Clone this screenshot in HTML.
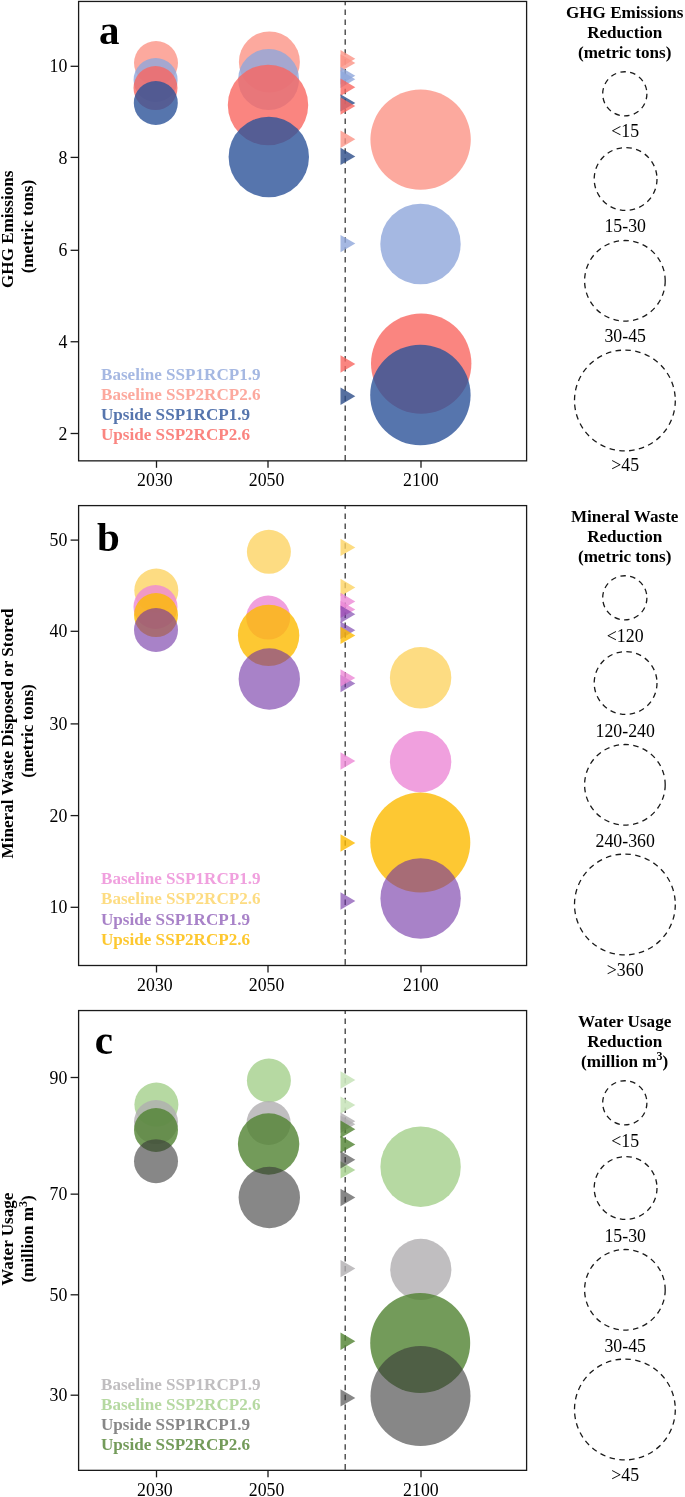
<!DOCTYPE html><html><head><meta charset="utf-8"><style>html,body{margin:0;padding:0;background:#fff;}svg{display:block;will-change:transform;}text{font-family:"Liberation Serif",serif;}</style></head><body>
<svg width="685" height="1497" viewBox="0 0 685 1497">
<rect width="685" height="1497" fill="#fff"/>
<g><circle cx="156.0" cy="63.1" r="22" fill="#fb9486" fill-opacity="0.8"/><circle cx="155.6" cy="80.0" r="22" fill="#8ea6db" fill-opacity="0.8"/><circle cx="155.5" cy="88.1" r="22" fill="#f96760" fill-opacity="0.8"/><circle cx="155.8" cy="103.0" r="22" fill="#2c5398" fill-opacity="0.8"/><circle cx="269.4" cy="62.0" r="30.5" fill="#fb9486" fill-opacity="0.8"/><circle cx="268.6" cy="79.5" r="30.5" fill="#8ea6db" fill-opacity="0.8"/><circle cx="268.0" cy="105.0" r="40.2" fill="#f96760" fill-opacity="0.8"/><circle cx="268.8" cy="157.0" r="40.2" fill="#2c5398" fill-opacity="0.8"/><circle cx="420.6" cy="139.6" r="50.2" fill="#fb9486" fill-opacity="0.8"/><circle cx="420.5" cy="244.0" r="40.2" fill="#8ea6db" fill-opacity="0.8"/><circle cx="421.2" cy="363.6" r="50.2" fill="#f96760" fill-opacity="0.8"/><circle cx="420.4" cy="395.0" r="50.2" fill="#2c5398" fill-opacity="0.8"/><line x1="345.2" y1="460.60" x2="345.2" y2="1.45" stroke="#3a3a3a" stroke-width="1.3" stroke-dasharray="5.5 4.40"/><line x1="345.2" y1="460.80" x2="345.2" y2="460.60" stroke="#3a3a3a" stroke-width="1.3"/><polygon points="340.5,50.10 355.3,58.80 340.5,67.50" fill="#fb9486" fill-opacity="0.8"/><polygon points="340.5,54.20 355.3,62.90 340.5,71.60" fill="#fb9486" fill-opacity="0.8"/><polygon points="340.5,67.10 355.3,75.80 340.5,84.50" fill="#8ea6db" fill-opacity="0.8"/><polygon points="340.5,70.60 355.3,79.30 340.5,88.00" fill="#8ea6db" fill-opacity="0.8"/><polygon points="340.5,78.60 355.3,87.30 340.5,96.00" fill="#f96760" fill-opacity="0.8"/><polygon points="340.5,94.20 355.3,102.90 340.5,111.60" fill="#2c4c88" fill-opacity="0.8"/><polygon points="340.5,97.40 355.3,106.10 340.5,114.80" fill="#f96760" fill-opacity="0.8"/><polygon points="340.5,130.50 355.3,139.20 340.5,147.90" fill="#fb9486" fill-opacity="0.8"/><polygon points="340.5,147.70 355.3,156.40 340.5,165.10" fill="#2c4c88" fill-opacity="0.8"/><polygon points="340.5,234.90 355.3,243.60 340.5,252.30" fill="#8ea6db" fill-opacity="0.8"/><polygon points="340.5,355.30 355.3,364.00 340.5,372.70" fill="#f96760" fill-opacity="0.8"/><polygon points="340.5,387.60 355.3,396.30 340.5,405.00" fill="#2c4c88" fill-opacity="0.8"/><rect x="78.6" y="1.45" width="448.0" height="459.4" fill="none" stroke="#1a1a1a" stroke-width="1.3"/><line x1="156.5" y1="460.8" x2="156.5" y2="467.8" stroke="#1a1a1a" stroke-width="1.3"/><text x="154.9" y="486.10" font-size="17.8" text-anchor="middle" fill="#000">2030</text><line x1="268.0" y1="460.8" x2="268.0" y2="467.8" stroke="#1a1a1a" stroke-width="1.3"/><text x="266.6" y="486.10" font-size="17.8" text-anchor="middle" fill="#000">2050</text><line x1="421.0" y1="460.8" x2="421.0" y2="467.8" stroke="#1a1a1a" stroke-width="1.3"/><text x="420.9" y="486.10" font-size="17.8" text-anchor="middle" fill="#000">2100</text><line x1="78.6" y1="66.3" x2="70.6" y2="66.3" stroke="#1a1a1a" stroke-width="1.3"/><text x="67.3" y="72.4" font-size="17.8" text-anchor="end" fill="#000">10</text><line x1="78.6" y1="157.4" x2="70.6" y2="157.4" stroke="#1a1a1a" stroke-width="1.3"/><text x="67.3" y="163.5" font-size="17.8" text-anchor="end" fill="#000">8</text><line x1="78.6" y1="250.3" x2="70.6" y2="250.3" stroke="#1a1a1a" stroke-width="1.3"/><text x="67.3" y="256.4" font-size="17.8" text-anchor="end" fill="#000">6</text><line x1="78.6" y1="341.75" x2="70.6" y2="341.75" stroke="#1a1a1a" stroke-width="1.3"/><text x="67.3" y="347.9" font-size="17.8" text-anchor="end" fill="#000">4</text><line x1="78.6" y1="433.5" x2="70.6" y2="433.5" stroke="#1a1a1a" stroke-width="1.3"/><text x="67.3" y="439.6" font-size="17.8" text-anchor="end" fill="#000">2</text><text x="98.9" y="44.0" font-size="41" font-weight="bold" fill="#000">a</text><text x="101.0" y="379.70" font-size="17.1" font-weight="bold" fill="#a5b8e2">Baseline SSP1RCP1.9</text><text x="101.0" y="399.95" font-size="17.1" font-weight="bold" fill="#fca99e">Baseline SSP2RCP2.6</text><text x="101.0" y="420.20" font-size="17.1" font-weight="bold" fill="#5675ad">Upside SSP1RCP1.9</text><text x="101.0" y="440.45" font-size="17.1" font-weight="bold" fill="#fa8580">Upside SSP2RCP2.6</text><text transform="translate(13.4,229.3) rotate(-90)" font-size="17.1" font-weight="bold" text-anchor="middle" fill="#000">GHG Emissions</text><text transform="translate(33.2,226.6) rotate(-90)" font-size="17.1" font-weight="bold" text-anchor="middle" fill="#000">(metric tons)</text><text x="624.7" y="17.8" font-size="17.1" font-weight="bold" text-anchor="middle" fill="#000">GHG Emissions</text><text x="624.7" y="37.7" font-size="17.1" font-weight="bold" text-anchor="middle" fill="#000">Reduction</text><text x="624.7" y="57.6" font-size="17.1" font-weight="bold" text-anchor="middle" fill="#000">(metric tons)</text><circle cx="624.8" cy="93.85" r="22.1" fill="none" stroke="#1a1a1a" stroke-width="1.3" stroke-dasharray="5.5 4.40"/><text x="625.2" y="137.20" font-size="17.8" text-anchor="middle" fill="#000">&lt;15</text><circle cx="625.6" cy="179.0" r="31.4" fill="none" stroke="#1a1a1a" stroke-width="1.3" stroke-dasharray="5.5 4.40"/><text x="625.2" y="232.40" font-size="17.8" text-anchor="middle" fill="#000">15-30</text><circle cx="624.9" cy="280.8" r="40.3" fill="none" stroke="#1a1a1a" stroke-width="1.3" stroke-dasharray="5.5 4.40"/><text x="625.2" y="342.40" font-size="17.8" text-anchor="middle" fill="#000">30-45</text><circle cx="624.9" cy="400.5" r="50.4" fill="none" stroke="#1a1a1a" stroke-width="1.3" stroke-dasharray="5.5 4.40"/><text x="625.2" y="471.30" font-size="17.8" text-anchor="middle" fill="#000">&gt;45</text></g>
<g><circle cx="156.3" cy="590.5" r="22" fill="#fcd363" fill-opacity="0.8"/><circle cx="155.5" cy="607.0" r="22" fill="#ec88d6" fill-opacity="0.8"/><circle cx="156.0" cy="615.1" r="22" fill="#fcba00" fill-opacity="0.8"/><circle cx="156.0" cy="630.0" r="22" fill="#6e2fa3" fill-opacity="0.6"/><circle cx="268.9" cy="551.8" r="22" fill="#fcd363" fill-opacity="0.8"/><circle cx="268.2" cy="617.6" r="22" fill="#ec88d6" fill-opacity="0.8"/><circle cx="268.6" cy="635.4" r="30.7" fill="#fcba00" fill-opacity="0.8"/><circle cx="269.3" cy="679.0" r="30.7" fill="#6e2fa3" fill-opacity="0.6"/><circle cx="420.6" cy="677.8" r="30.7" fill="#fcd363" fill-opacity="0.8"/><circle cx="420.6" cy="761.7" r="30.7" fill="#ec88d6" fill-opacity="0.8"/><circle cx="420.3" cy="842.6" r="50.0" fill="#fcba00" fill-opacity="0.8"/><circle cx="420.6" cy="898.5" r="40.2" fill="#6e2fa3" fill-opacity="0.6"/><line x1="345.2" y1="964.50" x2="345.2" y2="505.6" stroke="#3a3a3a" stroke-width="1.3" stroke-dasharray="5.5 4.40"/><line x1="345.2" y1="965.50" x2="345.2" y2="964.50" stroke="#3a3a3a" stroke-width="1.3"/><polygon points="340.5,538.70 355.3,547.40 340.5,556.10" fill="#fcd363" fill-opacity="0.8"/><polygon points="340.5,578.80 355.3,587.50 340.5,596.20" fill="#fcd363" fill-opacity="0.8"/><polygon points="340.5,592.80 355.3,601.50 340.5,610.20" fill="#ec88d6" fill-opacity="0.8"/><polygon points="340.5,600.70 355.3,609.40 340.5,618.10" fill="#ec88d6" fill-opacity="0.8"/><polygon points="340.5,605.60 355.3,614.30 340.5,623.00" fill="#6e2fa3" fill-opacity="0.6"/><polygon points="340.5,621.60 355.3,630.30 340.5,639.00" fill="#6e2fa3" fill-opacity="0.6"/><polygon points="340.5,626.70 355.3,635.40 340.5,644.10" fill="#fcba00" fill-opacity="0.8"/><polygon points="340.5,674.80 355.3,683.50 340.5,692.20" fill="#6e2fa3" fill-opacity="0.6"/><polygon points="340.5,669.20 355.3,677.90 340.5,686.60" fill="#ec88d6" fill-opacity="0.8"/><polygon points="340.5,752.30 355.3,761.00 340.5,769.70" fill="#ec88d6" fill-opacity="0.8"/><polygon points="340.5,834.30 355.3,843.00 340.5,851.70" fill="#fcba00" fill-opacity="0.8"/><polygon points="340.5,892.30 355.3,901.00 340.5,909.70" fill="#6e2fa3" fill-opacity="0.6"/><rect x="78.6" y="505.6" width="448.0" height="459.9" fill="none" stroke="#1a1a1a" stroke-width="1.3"/><line x1="156.5" y1="965.5" x2="156.5" y2="972.5" stroke="#1a1a1a" stroke-width="1.3"/><text x="154.9" y="990.80" font-size="17.8" text-anchor="middle" fill="#000">2030</text><line x1="268.0" y1="965.5" x2="268.0" y2="972.5" stroke="#1a1a1a" stroke-width="1.3"/><text x="266.6" y="990.80" font-size="17.8" text-anchor="middle" fill="#000">2050</text><line x1="421.0" y1="965.5" x2="421.0" y2="972.5" stroke="#1a1a1a" stroke-width="1.3"/><text x="420.9" y="990.80" font-size="17.8" text-anchor="middle" fill="#000">2100</text><line x1="78.6" y1="540.1" x2="70.6" y2="540.1" stroke="#1a1a1a" stroke-width="1.3"/><text x="67.3" y="546.2" font-size="17.8" text-anchor="end" fill="#000">50</text><line x1="78.6" y1="631.3" x2="70.6" y2="631.3" stroke="#1a1a1a" stroke-width="1.3"/><text x="67.3" y="637.4" font-size="17.8" text-anchor="end" fill="#000">40</text><line x1="78.6" y1="723.9" x2="70.6" y2="723.9" stroke="#1a1a1a" stroke-width="1.3"/><text x="67.3" y="730.0" font-size="17.8" text-anchor="end" fill="#000">30</text><line x1="78.6" y1="815.6" x2="70.6" y2="815.6" stroke="#1a1a1a" stroke-width="1.3"/><text x="67.3" y="821.7" font-size="17.8" text-anchor="end" fill="#000">20</text><line x1="78.6" y1="907.3" x2="70.6" y2="907.3" stroke="#1a1a1a" stroke-width="1.3"/><text x="67.3" y="913.4" font-size="17.8" text-anchor="end" fill="#000">10</text><text x="96.9" y="551.0" font-size="41" font-weight="bold" fill="#000">b</text><text x="101.0" y="884.20" font-size="17.1" font-weight="bold" fill="#f0a0de">Baseline SSP1RCP1.9</text><text x="101.0" y="904.45" font-size="17.1" font-weight="bold" fill="#fddc82">Baseline SSP2RCP2.6</text><text x="101.0" y="924.70" font-size="17.1" font-weight="bold" fill="#a882c8">Upside SSP1RCP1.9</text><text x="101.0" y="944.95" font-size="17.1" font-weight="bold" fill="#fdc830">Upside SSP2RCP2.6</text><text transform="translate(13.4,733.5) rotate(-90)" font-size="17.1" font-weight="bold" text-anchor="middle" fill="#000">Mineral Waste Disposed or Stored</text><text transform="translate(33.2,731.0) rotate(-90)" font-size="17.1" font-weight="bold" text-anchor="middle" fill="#000">(metric tons)</text><text x="624.7" y="521.8" font-size="17.1" font-weight="bold" text-anchor="middle" fill="#000">Mineral Waste</text><text x="624.7" y="541.7" font-size="17.1" font-weight="bold" text-anchor="middle" fill="#000">Reduction</text><text x="624.7" y="561.6" font-size="17.1" font-weight="bold" text-anchor="middle" fill="#000">(metric tons)</text><circle cx="624.8" cy="597.85" r="22.1" fill="none" stroke="#1a1a1a" stroke-width="1.3" stroke-dasharray="5.5 4.40"/><text x="625.2" y="641.90" font-size="17.8" text-anchor="middle" fill="#000">&lt;120</text><circle cx="625.6" cy="683.0" r="31.4" fill="none" stroke="#1a1a1a" stroke-width="1.3" stroke-dasharray="5.5 4.40"/><text x="625.2" y="737.10" font-size="17.8" text-anchor="middle" fill="#000">120-240</text><circle cx="624.9" cy="784.8" r="40.3" fill="none" stroke="#1a1a1a" stroke-width="1.3" stroke-dasharray="5.5 4.40"/><text x="625.2" y="847.10" font-size="17.8" text-anchor="middle" fill="#000">240-360</text><circle cx="624.9" cy="904.5" r="50.4" fill="none" stroke="#1a1a1a" stroke-width="1.3" stroke-dasharray="5.5 4.40"/><text x="625.2" y="976.00" font-size="17.8" text-anchor="middle" fill="#000">&gt;360</text></g>
<g><circle cx="156.4" cy="1104.6" r="22" fill="#a4d08b" fill-opacity="0.8"/><circle cx="156.0" cy="1122.1" r="22" fill="#b0aeb0" fill-opacity="0.8"/><circle cx="156.0" cy="1130.0" r="22" fill="#508231" fill-opacity="0.8"/><circle cx="156.0" cy="1161.2" r="22" fill="#373737" fill-opacity="0.6"/><circle cx="268.9" cy="1080.5" r="22" fill="#a4d08b" fill-opacity="0.8"/><circle cx="268.6" cy="1123.0" r="22" fill="#b0aeb0" fill-opacity="0.8"/><circle cx="268.6" cy="1144.0" r="30.7" fill="#508231" fill-opacity="0.8"/><circle cx="269.3" cy="1197.5" r="30.7" fill="#373737" fill-opacity="0.6"/><circle cx="420.6" cy="1166.7" r="40.2" fill="#a4d08b" fill-opacity="0.8"/><circle cx="420.8" cy="1269.4" r="30.6" fill="#b0aeb0" fill-opacity="0.8"/><circle cx="420.2" cy="1343.0" r="50.0" fill="#508231" fill-opacity="0.8"/><circle cx="420.5" cy="1396.1" r="50.0" fill="#373737" fill-opacity="0.6"/><line x1="345.2" y1="1469.50" x2="345.2" y2="1010.55" stroke="#3a3a3a" stroke-width="1.3" stroke-dasharray="5.5 4.40"/><line x1="345.2" y1="1470.35" x2="345.2" y2="1469.50" stroke="#3a3a3a" stroke-width="1.3"/><polygon points="340.5,1071.30 355.3,1080.00 340.5,1088.70" fill="#cae4bd" fill-opacity="0.9"/><polygon points="340.5,1096.40 355.3,1105.10 340.5,1113.80" fill="#cae4bd" fill-opacity="0.9"/><polygon points="340.5,1112.50 355.3,1121.20 340.5,1129.90" fill="#b0aeb0" fill-opacity="0.8"/><polygon points="340.5,1115.50 355.3,1124.20 340.5,1132.90" fill="#b0aeb0" fill-opacity="0.8"/><polygon points="340.5,1120.60 355.3,1129.30 340.5,1138.00" fill="#508231" fill-opacity="0.8"/><polygon points="340.5,1135.70 355.3,1144.40 340.5,1153.10" fill="#508231" fill-opacity="0.8"/><polygon points="340.5,1161.20 355.3,1169.90 340.5,1178.60" fill="#a4d08b" fill-opacity="0.8"/><polygon points="340.5,1151.00 355.3,1159.70 340.5,1168.40" fill="#373737" fill-opacity="0.6"/><polygon points="340.5,1188.80 355.3,1197.50 340.5,1206.20" fill="#373737" fill-opacity="0.6"/><polygon points="340.5,1259.90 355.3,1268.60 340.5,1277.30" fill="#b0aeb0" fill-opacity="0.8"/><polygon points="340.5,1332.60 355.3,1341.30 340.5,1350.00" fill="#508231" fill-opacity="0.8"/><polygon points="340.5,1389.20 355.3,1397.90 340.5,1406.60" fill="#373737" fill-opacity="0.6"/><rect x="78.6" y="1010.55" width="448.0" height="459.8" fill="none" stroke="#1a1a1a" stroke-width="1.3"/><line x1="156.5" y1="1470.35" x2="156.5" y2="1477.35" stroke="#1a1a1a" stroke-width="1.3"/><text x="154.9" y="1495.65" font-size="17.8" text-anchor="middle" fill="#000">2030</text><line x1="268.0" y1="1470.35" x2="268.0" y2="1477.35" stroke="#1a1a1a" stroke-width="1.3"/><text x="266.6" y="1495.65" font-size="17.8" text-anchor="middle" fill="#000">2050</text><line x1="421.0" y1="1470.35" x2="421.0" y2="1477.35" stroke="#1a1a1a" stroke-width="1.3"/><text x="420.9" y="1495.65" font-size="17.8" text-anchor="middle" fill="#000">2100</text><line x1="78.6" y1="1077.5" x2="70.6" y2="1077.5" stroke="#1a1a1a" stroke-width="1.3"/><text x="67.3" y="1083.6" font-size="17.8" text-anchor="end" fill="#000">90</text><line x1="78.6" y1="1194.15" x2="70.6" y2="1194.15" stroke="#1a1a1a" stroke-width="1.3"/><text x="67.3" y="1200.2" font-size="17.8" text-anchor="end" fill="#000">70</text><line x1="78.6" y1="1294.8" x2="70.6" y2="1294.8" stroke="#1a1a1a" stroke-width="1.3"/><text x="67.3" y="1300.9" font-size="17.8" text-anchor="end" fill="#000">50</text><line x1="78.6" y1="1395.2" x2="70.6" y2="1395.2" stroke="#1a1a1a" stroke-width="1.3"/><text x="67.3" y="1401.3" font-size="17.8" text-anchor="end" fill="#000">30</text><text x="94.8" y="1054.0" font-size="41" font-weight="bold" fill="#000">c</text><text x="101.0" y="1389.70" font-size="17.1" font-weight="bold" fill="#c0bec0">Baseline SSP1RCP1.9</text><text x="101.0" y="1409.95" font-size="17.1" font-weight="bold" fill="#b6d9a2">Baseline SSP2RCP2.6</text><text x="101.0" y="1430.20" font-size="17.1" font-weight="bold" fill="#878787">Upside SSP1RCP1.9</text><text x="101.0" y="1450.45" font-size="17.1" font-weight="bold" fill="#739b5a">Upside SSP2RCP2.6</text><text transform="translate(13.4,1239.2) rotate(-90)" font-size="17.1" font-weight="bold" text-anchor="middle" fill="#000">Water Usage</text><text transform="translate(33.2,1239.0) rotate(-90)" font-size="17.1" font-weight="bold" text-anchor="middle" fill="#000">(million m<tspan dy="-6.5" font-size="12">3</tspan><tspan dy="6.5">)</tspan></text><text x="624.7" y="1026.8" font-size="17.1" font-weight="bold" text-anchor="middle" fill="#000">Water Usage</text><text x="624.7" y="1046.7" font-size="17.1" font-weight="bold" text-anchor="middle" fill="#000">Reduction</text><text x="624.7" y="1066.6" font-size="17.1" font-weight="bold" text-anchor="middle" fill="#000">(million m<tspan dy="-6.5" font-size="12">3</tspan><tspan dy="6.5">)</tspan></text><circle cx="624.8" cy="1102.85" r="22.1" fill="none" stroke="#1a1a1a" stroke-width="1.3" stroke-dasharray="5.5 4.40"/><text x="625.2" y="1146.90" font-size="17.8" text-anchor="middle" fill="#000">&lt;15</text><circle cx="625.6" cy="1188.0" r="31.4" fill="none" stroke="#1a1a1a" stroke-width="1.3" stroke-dasharray="5.5 4.40"/><text x="625.2" y="1242.10" font-size="17.8" text-anchor="middle" fill="#000">15-30</text><circle cx="624.9" cy="1289.8" r="40.3" fill="none" stroke="#1a1a1a" stroke-width="1.3" stroke-dasharray="5.5 4.40"/><text x="625.2" y="1352.10" font-size="17.8" text-anchor="middle" fill="#000">30-45</text><circle cx="624.9" cy="1409.5" r="50.4" fill="none" stroke="#1a1a1a" stroke-width="1.3" stroke-dasharray="5.5 4.40"/><text x="625.2" y="1481.00" font-size="17.8" text-anchor="middle" fill="#000">&gt;45</text></g>
</svg></body></html>
